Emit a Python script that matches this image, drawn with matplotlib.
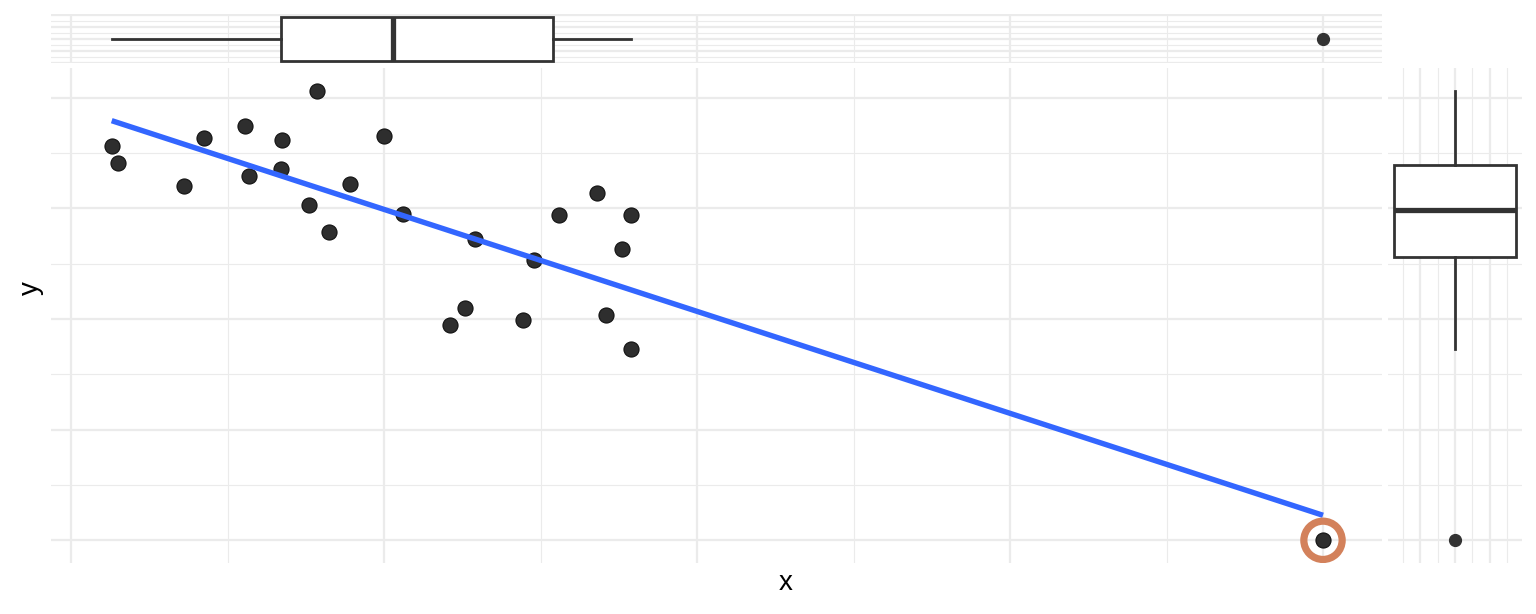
import numpy as np
import matplotlib
matplotlib.use("Agg")
import matplotlib.pyplot as plt

# ---- data ----
x_vals = [0.26, 0.30, 0.72, 0.85, 1.11, 1.14, 1.35, 1.34, 1.52, 1.57, 1.65, 1.78, 2.00,
          2.12, 2.42, 2.52, 2.58, 2.89, 2.96, 3.12, 3.36, 3.42, 3.52, 3.58, 3.58, 8.00]
y_vals = [7.13, 6.82, 6.41, 7.28, 7.49, 6.59, 7.24, 6.71, 6.06, 8.13, 5.57, 6.44, 7.31,
          5.90, 3.89, 4.20, 5.45, 3.98, 5.07, 5.88, 6.28, 4.07, 5.27, 5.88, 3.46, 0.00]
highlight_x = [8.00]
highlight_y = [0.00]

x = np.array(x_vals)
y = np.array(y_vals)

W, H = 1536, 614
fig = plt.figure(figsize=(W / 100, H / 100), dpi=100)

def px_axes(l, t, r, b):
    return fig.add_axes([l / W, 1 - b / H, (r - l) / W, (b - t) / H])

GRID = "#EBEBEB"
MAJ_LW, MIN_LW = 1.6, 0.8
DARK = "#333333"

def style(ax):
    for s in ax.spines.values():
        s.set_visible(False)
    ax.tick_params(which="both", length=0, labelbottom=False, labelleft=False)
    ax.set_axisbelow(True)

def xgrid(ax, lo, hi):
    for v in np.arange(lo, hi + 1e-9, 1.0):
        major = abs(v / 2 - round(v / 2)) < 1e-6
        ax.axvline(v, color=GRID, lw=MAJ_LW if major else MIN_LW, zorder=0)

def ygrid(ax, lo, hi):
    for v in np.arange(lo, hi + 1e-9, 1.0):
        major = abs(v / 2 - round(v / 2)) < 1e-6
        ax.axhline(v, color=GRID, lw=MAJ_LW if major else MIN_LW, zorder=0)

xlim = (-0.128, 8.377)
ylim = (-0.41, 8.54)

# ---- main panel ----
ax = px_axes(51, 68, 1382, 563)
style(ax)
xgrid(ax, 0, 8)
ygrid(ax, 0, 8)
ax.set_xlim(*xlim)
ax.set_ylim(*ylim)

ax.scatter(x, y, s=118, facecolor="#2E2E2E", edgecolor="#111111", linewidth=0.8, zorder=3)
coef = np.polyfit(x, y, 1)
xs = np.array([x.min(), x.max()])
ax.plot(xs, np.polyval(coef, xs), color="#3366FF", lw=3.9, zorder=4, solid_capstyle="butt")
ax.scatter(highlight_x, highlight_y, s=760, facecolor="none", edgecolor="#D3815B",
           linewidth=5.2, zorder=5)

BOX_LW = 2.0
MED_LW = 3.8

# ---- top marginal boxplot ----
axt = px_axes(51, 14, 1382, 63)
style(axt)
xgrid(axt, 0, 8)
for v in np.arange(-0.4, 0.41, 0.1):
    major = abs(v * 5 - round(v * 5)) < 1e-6
    axt.axhline(v, color=GRID, lw=MAJ_LW if major else MIN_LW, zorder=0)
axt.set_xlim(*xlim)
axt.set_ylim(-0.40, 0.417)
bp = axt.boxplot(x, vert=False, positions=[0], widths=0.733, patch_artist=True,
                 whis=1.5, manage_ticks=False,
                 boxprops=dict(facecolor="white", edgecolor=DARK, linewidth=BOX_LW),
                 whiskerprops=dict(color=DARK, linewidth=BOX_LW),
                 capprops=dict(linewidth=0),
                 medianprops=dict(color=DARK, linewidth=MED_LW),
                 flierprops=dict(marker="o", markerfacecolor=DARK, markeredgecolor=DARK,
                                 markersize=8.5))
for a in bp.values():
    for art in a:
        art.set_zorder(3)
axt.set_xlim(*xlim)

# ---- right marginal boxplot ----
axr = px_axes(1388, 68, 1522, 563)
style(axr)
ygrid(axr, 0, 8)
for v in np.arange(-0.3, 0.31, 0.1):
    major = abs(v * 5 - round(v * 5)) < 1e-6
    axr.axvline(v, color=GRID, lw=MAJ_LW if major else MIN_LW, zorder=0)
axr.set_ylim(*ylim)
bp2 = axr.boxplot(y, vert=True, positions=[0.0], widths=0.70, patch_artist=True,
                  whis=1.5, manage_ticks=False,
                  boxprops=dict(facecolor="white", edgecolor=DARK, linewidth=BOX_LW),
                  whiskerprops=dict(color=DARK, linewidth=BOX_LW),
                  capprops=dict(linewidth=0),
                  medianprops=dict(color=DARK, linewidth=MED_LW),
                  flierprops=dict(marker="o", markerfacecolor=DARK, markeredgecolor=DARK,
                                  markersize=8.5))
for a in bp2.values():
    for art in a:
        art.set_zorder(3)
axr.set_xlim(-0.387, 0.387)
axr.set_ylim(*ylim)

# ---- axis titles ----
fig.text(786 / W, 1 - 583 / H, "x", ha="center", va="center", fontsize=20,
         family=["Liberation Sans", "DejaVu Sans"])
fig.text(31 / W, 1 - 288 / H, "y", ha="center", va="center", fontsize=20, rotation=90,
         family=["Liberation Sans", "DejaVu Sans"])

fig.savefig("out.png", dpi=100, facecolor="white")
